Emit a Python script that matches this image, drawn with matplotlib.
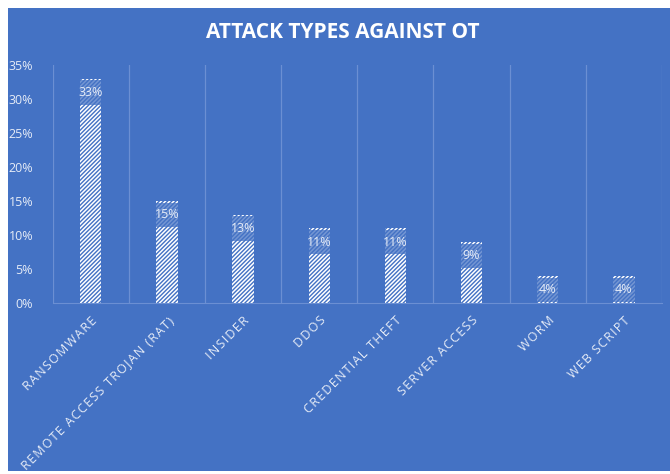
import matplotlib
matplotlib.use('Agg')
import matplotlib.pyplot as plt
from matplotlib.patches import Rectangle
import numpy as np

# attack types and share of incidents
attack_types = ['RANSOMWARE', 'REMOTE ACCESS TROJAN (RAT)', 'INSIDER', 'DDOS',
                'CREDENTIAL THEFT', 'SERVER ACCESS', 'WORM', 'WEB SCRIPT']
shares = [33, 15, 13, 11, 11, 9, 4, 4]
yticks = [0, 5, 10, 15, 20, 25, 30, 35]

blue = '#4472C4'
grid_col = '#6b8fd3'
txt_col = '#e6ecf7'

plt.rcParams['font.family'] = ['Open Sans', 'DejaVu Sans']
plt.rcParams['hatch.linewidth'] = 1.1

fig = plt.figure(figsize=(6.7, 4.74), dpi=100, facecolor='white')
# blue chart background (white strip on top/left/bottom like the screenshot)
fig.patches.append(Rectangle((8 / 670, 3 / 474), 1, 1 - 11 / 474,
                             transform=fig.transFigure, facecolor=blue,
                             edgecolor='none', zorder=-5))

ax = fig.add_axes([52.6 / 670, 1 - 303 / 474, (662 - 52.6) / 670, (303 - 65) / 474])
ax.set_facecolor('none')
ax.set_zorder(2)

x = np.arange(len(attack_types))
bars = ax.bar(x, shares, width=0.28, color=blue, edgecolor='white',
              linewidth=0, hatch='////////', zorder=3)

for b, v in zip(bars, shares):
    ax.annotate(f'{v}%', (b.get_x() + b.get_width() / 2, v),
                xytext=(0, -14), textcoords='offset pixels',
                ha='center', va='center', color=txt_col, fontsize=9,
                zorder=5,
                bbox=dict(boxstyle='square,pad=0.45', facecolor=blue,
                          edgecolor='none', alpha=0.75))

ax.set_xlim(-0.5, len(attack_types) - 0.5)
ax.set_ylim(0, 35)
ax.set_yticks(yticks)
ax.set_yticklabels([f'{t}%' for t in yticks])

# vertical gridlines between categories
for g in np.arange(-0.5, len(attack_types), 1):
    ax.axvline(g, color=grid_col, linewidth=0.9, zorder=1)

# excel spaces the category letters out a bit
spaced = ['\u200a'.join(list(t)) for t in attack_types]
ax.set_xticks(x)
ax.set_xticklabels(spaced, rotation=45, ha='right', rotation_mode='anchor',
                   fontsize=9, color=txt_col)
for s in ['top', 'right', 'left']:
    ax.spines[s].set_visible(False)
ax.spines['bottom'].set_color(grid_col)
ax.tick_params(axis='both', length=0)
ax.tick_params(axis='y', pad=14, colors=txt_col, labelsize=9)
ax.tick_params(axis='x', pad=8)

fig.text(0.511, 1 - 32 / 474, 'ATTACK TYPES AGAINST OT', ha='center', va='center',
         color='white', fontsize=15, fontweight='bold')

fig.savefig('out.png', dpi=100, facecolor='white')
